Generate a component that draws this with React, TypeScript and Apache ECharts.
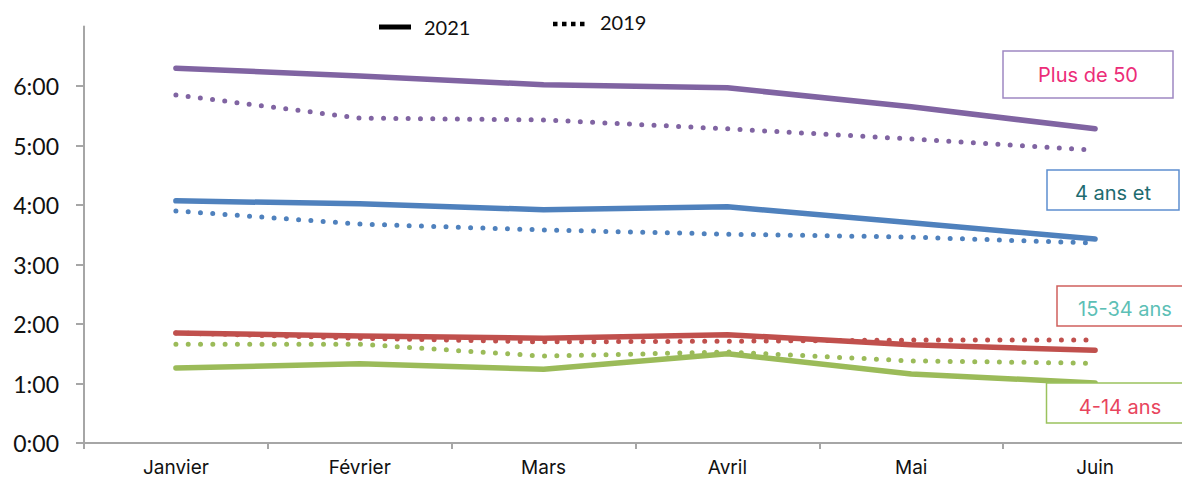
import React, { useEffect, useRef } from "react";
import * as echarts from "echarts";

// Months shown on the category axis
const months = ["Janvier", "Février", "Mars", "Avril", "Mai", "Juin"];

// Daily viewing time in hours, per age group
const plus50_2021 = [6.3, 6.17, 6.02, 5.97, 5.65, 5.28];
const plus50_2019 = [5.85, 5.46, 5.43, 5.28, 5.11, 4.92];
const plus4_2021 = [4.07, 4.02, 3.92, 3.97, 3.7, 3.43];
const plus4_2019 = [3.9, 3.68, 3.58, 3.51, 3.46, 3.36];
const age15_34_2021 = [1.85, 1.8, 1.76, 1.82, 1.65, 1.56];
const age15_34_2019 = [1.85, 1.76, 1.7, 1.71, 1.73, 1.73];
const age4_14_2021 = [1.26, 1.33, 1.24, 1.5, 1.16, 1.01];
const age4_14_2019 = [1.66, 1.66, 1.46, 1.53, 1.38, 1.34];

// Hour ticks on the value axis
const hourTicks = [0, 1, 2, 3, 4, 5, 6];

const PURPLE = "#8064A2";
const BLUE = "#4F81BD";
const RED = "#C0504D";
const GREEN = "#9BBB59";

const solid = (name: string, data: number[], color: string) => ({
  name,
  type: "line",
  data,
  symbol: "none",
  lineStyle: { color, width: 5.5, cap: "round", join: "round" },
  z: 3,
});

const dotted = (name: string, data: number[], color: string) => ({
  name,
  type: "line",
  data,
  symbol: "none",
  lineStyle: { color, width: 5, type: [0, 12.3], cap: "round" },
  z: 4,
});

export default function App() {
  const ref = useRef<HTMLDivElement>(null);

  useEffect(() => {
    if (!ref.current) return;
    const chart = echarts.init(ref.current, null, { renderer: "svg" });
    const axisGray = "#A6A6A6";
    chart.setOption({
      animation: false,
      backgroundColor: "#ffffff",
      grid: { left: 84, right: 3, top: 26.5, bottom: 35, containLabel: false },
      xAxis: {
        type: "category",
        data: months,
        boundaryGap: true,
        axisLine: { lineStyle: { color: axisGray, width: 2 } },
        axisTick: { show: true, length: 6, lineStyle: { color: axisGray, width: 2 } },
        axisLabel: {
          color: "#111",
          fontFamily: "Inter",
          fontSize: 19,
          margin: 15,
        },
      },
      yAxis: {
        type: "value",
        min: 0,
        max: 7,
        interval: 1,
        splitLine: { show: false },
        axisLine: { show: true, lineStyle: { color: axisGray, width: 2 } },
        axisTick: { show: true, length: 8, lineStyle: { color: axisGray, width: 2 } },
        axisLabel: {
          color: "#111",
          fontFamily: "Lato",
          fontSize: 23,
          margin: 25,
          formatter: (v: number) => (hourTicks.includes(v) ? `${v}:00` : ""),
        },
      },
      series: [
        solid("Plus de 50 2021", plus50_2021, PURPLE),
        solid("4 ans et + 2021", plus4_2021, BLUE),
        solid("15-34 ans 2021", age15_34_2021, RED),
        solid("4-14 ans 2021", age4_14_2021, GREEN),
        dotted("Plus de 50 2019", plus50_2019, PURPLE),
        dotted("4 ans et + 2019", plus4_2019, BLUE),
        dotted("15-34 ans 2019", age15_34_2019, RED),
        dotted("4-14 ans 2019", age4_14_2019, GREEN),
      ],
      graphic: [
        // cover the tick at the top of the value axis
        { type: "rect", shape: { x: 72, y: 20, width: 11, height: 12 }, style: { fill: "#fff" }, z: 50 },
        // legend
        { type: "line", shape: { x1: 379, y1: 27, x2: 411, y2: 27 }, style: { stroke: "#000", lineWidth: 5 }, z: 50 },
        { type: "text", x: 424, y: 27, style: { text: "2021", fontFamily: "Lato", fontSize: 20, fill: "#111", verticalAlign: "middle" }, z: 50 },
        { type: "line", shape: { x1: 553, y1: 24, x2: 588, y2: 24 }, style: { stroke: "#000", lineWidth: 4.5, lineDash: [4.5, 4.5] }, z: 50 },
        { type: "text", x: 600, y: 22, style: { text: "2019", fontFamily: "Lato", fontSize: 20, fill: "#111", verticalAlign: "middle" }, z: 50 },
        // group captions
        { type: "rect", shape: { x: 1003, y: 51, width: 170, height: 47 }, style: { fill: "#fff", stroke: "#9F88C2", lineWidth: 1.5 }, z: 50 },
        { type: "text", x: 1088, y: 75, style: { text: "Plus de 50", fontFamily: "Inter", fontSize: 20, fill: "#EC2C78", align: "center", verticalAlign: "middle" }, z: 51 },
        { type: "rect", shape: { x: 1047, y: 170, width: 132, height: 40 }, style: { fill: "#fff", stroke: "#5D8ED0", lineWidth: 1.5 }, z: 50 },
        { type: "text", x: 1113, y: 193, style: { text: "4 ans et", fontFamily: "Inter", fontSize: 20, fill: "#1D6B6F", align: "center", verticalAlign: "middle" }, z: 51 },
        { type: "rect", shape: { x: 1057, y: 286, width: 140, height: 40 }, style: { fill: "#fff", stroke: "#D0605D", lineWidth: 1.5 }, z: 50 },
        { type: "text", x: 1125, y: 309, style: { text: "15-34 ans", fontFamily: "Inter", fontSize: 20, fill: "#5DBFB6", align: "center", verticalAlign: "middle" }, z: 51 },
        { type: "polyline", shape: { points: [[1195, 383], [1046.5, 383], [1046.5, 423], [1195, 423]] }, style: { fill: "#fff", stroke: "#9BC25E", lineWidth: 1.5 }, z: 50 },
        { type: "text", x: 1120, y: 407, style: { text: "4-14 ans", fontFamily: "Inter", fontSize: 20, fill: "#E8455D", align: "center", verticalAlign: "middle" }, z: 51 },
      ],
    });
    return () => chart.dispose();
  }, []);

  // the chart surface runs a few pixels past the right edge of the window
  return (
    <div
      ref={ref}
      style={{ position: "fixed", left: 0, top: 0, width: 1190, height: 478 }}
    />
  );
}
